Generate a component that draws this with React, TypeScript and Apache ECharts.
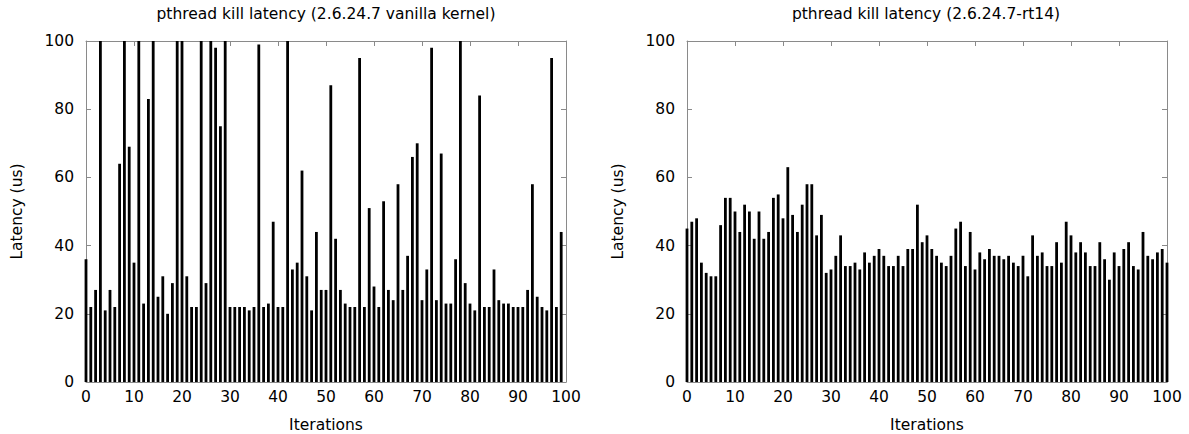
import React, { useEffect, useRef } from "react";
import * as echarts from "echarts";

const titles = [
  "pthread kill latency (2.6.24.7 vanilla kernel)",
  "pthread kill latency (2.6.24.7-rt14)",
];
const xAxisName = "Iterations";
const yAxisName = "Latency (us)";

// Vanilla kernel latencies (us); values above 100 are off the scale (clipped)
const vanilla: number[] = [
  36, 22, 27, 140, 21, 27, 22, 64, 140, 69,
  35, 140, 23, 83, 140, 25, 31, 20, 29, 140,
  140, 31, 22, 22, 140, 29, 140, 98, 75, 140,
  22, 22, 22, 22, 21, 22, 99, 22, 23, 47,
  22, 22, 140, 33, 35, 62, 31, 21, 44, 27,
  27, 87, 42, 27, 23, 22, 22, 95, 22, 51,
  28, 22, 53, 27, 24, 58, 27, 37, 66, 70,
  24, 33, 98, 24, 67, 23, 23, 36, 140, 29,
  23, 21, 84, 22, 22, 33, 24, 23, 23, 22,
  22, 22, 27, 58, 25, 22, 21, 95, 22, 44,
];

// RT kernel latencies (us)
const rt: number[] = [
  45, 47, 48, 35, 32, 31, 31, 46, 54, 54,
  50, 44, 52, 50, 42, 50, 42, 44, 54, 55,
  48, 63, 49, 44, 52, 58, 58, 43, 49, 32,
  33, 37, 43, 34, 34, 35, 33, 38, 35, 37,
  39, 37, 34, 34, 37, 34, 39, 39, 52, 41,
  43, 39, 37, 35, 34, 37, 45, 47, 34, 44,
  33, 38, 36, 39, 37, 37, 36, 37, 35, 34,
  37, 31, 43, 37, 38, 34, 34, 41, 35, 47,
  43, 38, 41, 38, 34, 34, 41, 36, 30, 38,
  34, 39, 41, 34, 33, 44, 37, 36, 38, 39,
  35,
];

const FONT = "DejaVu Sans";
const FS = 15.5;
const BORDER = "#8a8a8a";

function makeAxes(gridIndex: number) {
  const tick = { show: true, inside: true, length: 5, lineStyle: { color: BORDER, width: 1 } };
  const line = { show: true, onZero: false, lineStyle: { color: BORDER, width: 1 } };
  const xs = [
    {
      gridIndex,
      type: "value",
      position: "bottom",
      min: 0,
      max: 100,
      interval: 10,
      axisLine: line,
      axisTick: tick,
      splitLine: { show: false },
      axisLabel: { color: "#000", fontSize: FS, fontFamily: FONT, margin: 7 },
      name: xAxisName,
      nameLocation: "middle",
      nameGap: 35,
      nameTextStyle: { color: "#000", fontSize: FS, fontFamily: FONT },
    },
    {
      gridIndex,
      type: "value",
      position: "top",
      min: 0,
      max: 100,
      interval: 10,
      axisLine: line,
      axisTick: tick,
      splitLine: { show: false },
      axisLabel: { show: false },
    },
  ];
  const ys = [
    {
      gridIndex,
      type: "value",
      position: "left",
      min: 0,
      max: 100,
      interval: 20,
      axisLine: line,
      axisTick: tick,
      splitLine: { show: false },
      axisLabel: { color: "#000", fontSize: FS, fontFamily: FONT, margin: 12 },
      name: yAxisName,
      nameLocation: "middle",
      nameRotate: 90,
      nameGap: 61,
      nameTextStyle: { color: "#000", fontSize: FS, fontFamily: FONT },
    },
    {
      gridIndex,
      type: "value",
      position: "right",
      min: 0,
      max: 100,
      interval: 20,
      axisLine: line,
      axisTick: tick,
      splitLine: { show: false },
      axisLabel: { show: false },
    },
  ];
  return { xs, ys };
}

export default function App() {
  const ref = useRef<HTMLDivElement>(null);
  useEffect(() => {
    if (!ref.current) return;
    const chart = echarts.init(ref.current, undefined, { renderer: "svg" });
    const a0 = makeAxes(0);
    const a1 = makeAxes(1);
    const titleStyle = { color: "#000", fontSize: FS, fontWeight: "normal", fontFamily: FONT };
    chart.setOption({
      animation: false,
      backgroundColor: "#fff",
      title: [
        { text: titles[0], left: 326, top: 6, padding: 0, textAlign: "center", textStyle: titleStyle },
        { text: titles[1], left: 926, top: 6, padding: 0, textAlign: "center", textStyle: titleStyle },
      ],
      grid: [
        { left: 86, top: 41, width: 480, height: 341, containLabel: false, outerBoundsMode: "none" },
        { left: 687, top: 41, width: 480, height: 341, containLabel: false, outerBoundsMode: "none" },
      ],
      xAxis: [...a0.xs, ...a1.xs],
      yAxis: [...a0.ys, ...a1.ys],
      series: [
        {
          type: "bar",
          xAxisIndex: 0,
          yAxisIndex: 0,
          barWidth: 2.8,
          clip: true,
          itemStyle: { color: "#000" },
          data: vanilla.map((v, i) => [i, v]),
        },
        {
          type: "bar",
          xAxisIndex: 2,
          yAxisIndex: 2,
          barWidth: 2.8,
          clip: false,
          itemStyle: { color: "#000" },
          data: rt.map((v, i) => [i, v]),
        },
      ],
    });
    return () => chart.dispose();
  }, []);
  return (
    <div
      ref={ref}
      style={{ position: "absolute", left: 0, top: 0, width: 1189, height: 434 }}
    />
  );
}
